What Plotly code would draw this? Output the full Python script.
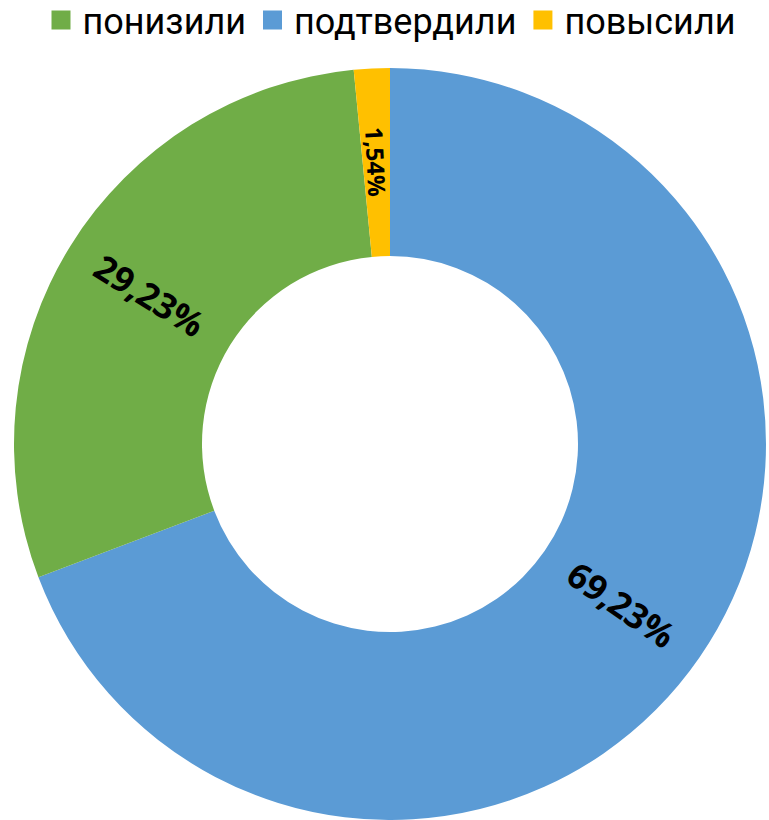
import math
import plotly.graph_objects as go

# Data (legend order)
categories = ["понизили", "подтвердили", "повысили"]
values = [29.23, 69.23, 1.54]
colors = ["#70AD47", "#5B9BD5", "#FFC000"]

# slice order clockwise from 12 o'clock
pie_order = [1, 0, 2]

labels_txt = [f"{v:.2f}".replace(".", ",") + "%" for v in values]

# layout geometry
W, H = 769, 820
ML, MR = 13, 2
PIE_TOP = 68          # px from top where the pie domain starts
HOLE = 0.5

fig = go.Figure()
pie_dom_y = [0, (H - PIE_TOP) / H]
fig.add_trace(go.Pie(
    labels=[categories[i] for i in pie_order],
    values=[values[i] for i in pie_order],
    marker=dict(colors=[colors[i] for i in pie_order], line=dict(width=0)),
    hole=HOLE,
    sort=False,
    direction="clockwise",
    rotation=0,
    textinfo="none",
    domain=dict(x=[0, 1], y=pie_dom_y),
    showlegend=False,
    hoverinfo="label+percent",
))

# legend entries
for c, col in zip(categories, colors):
    fig.add_trace(go.Scatter(
        x=[None], y=[None], mode="markers", name=c,
        marker=dict(symbol="square", size=16, color=col, line=dict(width=3, color=col)),
    ))

# radial percent labels placed at the middle of each slice's ring
plot_w = W - ML - MR
plot_h = H
R = min(plot_w, plot_h * (pie_dom_y[1] - pie_dom_y[0])) / 2
r_mid = R * (1 + HOLE) / 2
cx = 0.5
cy = (pie_dom_y[0] + pie_dom_y[1]) / 2
total = sum(values)
cum = 0.0
annotations = []
for i in pie_order:
    v = values[i]
    theta = (cum + v / 2) / total * 360.0
    cum += v
    ang = theta - 90.0
    while ang > 90:
        ang -= 180
    while ang <= -90:
        ang += 180
    t = math.radians(theta)
    annotations.append(dict(
        x=cx + r_mid * math.sin(t) / plot_w,
        y=cy + r_mid * math.cos(t) / plot_h,
        xref="paper", yref="paper", xanchor="center", yanchor="middle",
        text=labels_txt[i], showarrow=False, textangle=ang,
        font=dict(family="Open Sans", size=35 if v > 5 else 24, color="black", weight="bold"),
    ))

fig.update_layout(
    width=W, height=H,
    margin=dict(l=ML, r=MR, t=0, b=0, autoexpand=False),
    paper_bgcolor="white", plot_bgcolor="white",
    xaxis=dict(visible=False), yaxis=dict(visible=False),
    legend=dict(orientation="h", x=0.5, xanchor="center", y=1.0 + 10 / H, yanchor="top",
                font=dict(family="Roboto", size=36, color="black"),
                itemwidth=33,
                itemclick=False, bgcolor="rgba(0,0,0,0)"),
    annotations=annotations,
    font=dict(family="Open Sans"),
)

fig.write_html("out.html", config={"displayModeBar": False},
               post_script="document.body.style.margin='0';")
